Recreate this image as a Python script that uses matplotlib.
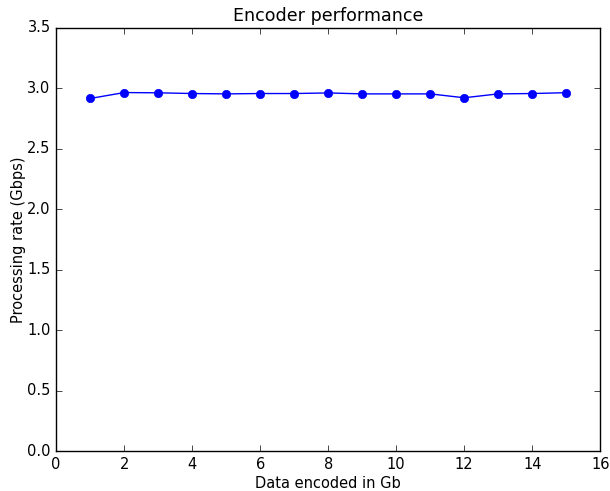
import matplotlib
matplotlib.use('Agg')
import matplotlib.pyplot as plt

# Encoder throughput per run
data_gb = [1, 2, 3, 4, 5, 6, 7, 8, 9, 10, 11, 12, 13, 14, 15]
rate_gbps = [2.917, 2.966, 2.964, 2.958, 2.955, 2.958, 2.958, 2.963,
             2.955, 2.955, 2.955, 2.923, 2.955, 2.958, 2.965]

plt.style.use('classic')
plt.rcParams['font.size'] = 10.5

fig = plt.figure(figsize=(6.1, 4.91), dpi=100, facecolor='white')
ax = fig.add_axes([0.092, 0.081, 0.892, 0.862])

ax.plot(data_gb, rate_gbps, 'b-o', markeredgecolor='b')

ax.set_xlim(0, 16)
ax.set_ylim(0, 3.5)
ax.set_title('Encoder performance', fontsize=12.6)
ax.set_xlabel('Data encoded in Gb', labelpad=3)
ax.set_ylabel('Processing rate (Gbps)', labelpad=1)

fig.savefig('out.png', dpi=100, facecolor='white')
